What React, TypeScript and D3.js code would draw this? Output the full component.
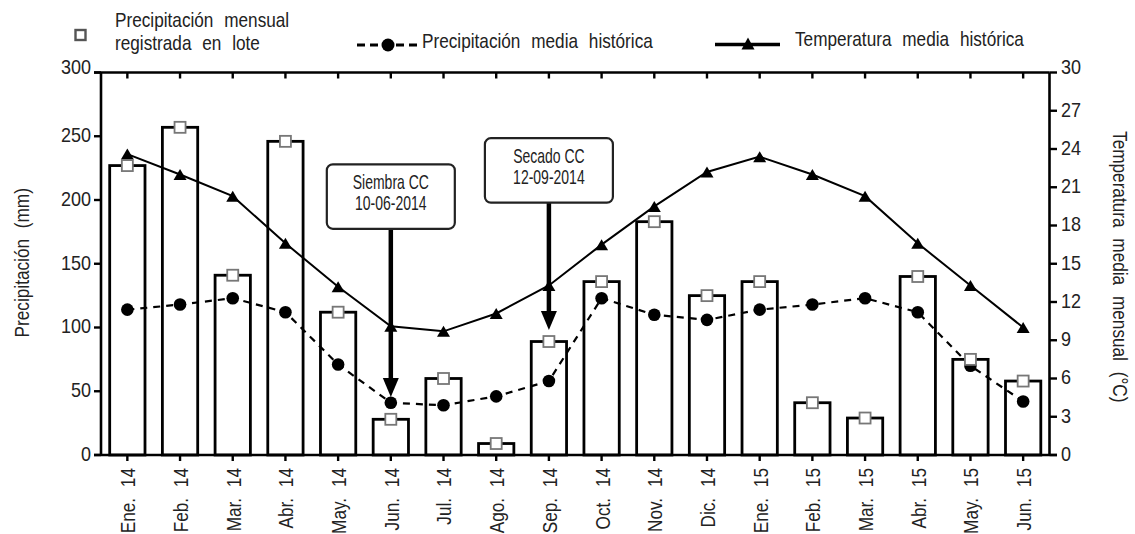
import React from "react";
import * as d3 from "d3";

const months = [
  "Ene. 14", "Feb. 14", "Mar. 14", "Abr. 14", "May. 14", "Jun. 14",
  "Jul. 14", "Ago. 14", "Sep. 14", "Oct. 14", "Nov. 14", "Dic. 14",
  "Ene. 15", "Feb. 15", "Mar. 15", "Abr. 15", "May. 15", "Jun. 15",
];
const precipLote = [227, 257, 141, 246, 112, 28, 60, 9, 89, 136, 183, 125, 136, 41, 29, 140, 75, 58];
const precipHist = [114, 118, 123, 112, 71, 41, 39, 46, 58, 123, 110, 106, 114, 118, 123, 112, 70, 42];
const tempHist = [23.6, 22.0, 20.3, 16.6, 13.2, 10.1, 9.7, 11.1, 13.3, 16.5, 19.5, 22.2, 23.4, 22.0, 20.3, 16.6, 13.3, 10.0];
const leftTicks = [0, 50, 100, 150, 200, 250, 300];
const rightTicks = [0, 3, 6, 9, 12, 15, 18, 21, 24, 27, 30];
const annotations = [
  { month: "Jun. 14", lines: ["Siembra CC", "10-06-2014"], boxTop: 228, tip: 45.5 },
  { month: "Sep. 14", lines: ["Secado CC", "12-09-2014"], boxTop: 248.5, tip: 98 },
];

const FONT = "'Liberation Sans', Arial, sans-serif";

type TP = {
  x: number; y: number; rot?: number; anchor?: "start" | "middle" | "end";
  size?: number; sx?: number; ws?: number; children: React.ReactNode;
};
function T({ x, y, rot = 0, anchor = "start", size = 20, sx = 0.86, ws = 7, children }: TP) {
  return (
    <text transform={`translate(${x},${y}) rotate(${rot}) scale(${sx},1)`} textAnchor={anchor}
      dominantBaseline="central" fontSize={size}
      style={{ fontFamily: FONT, fill: "#222", wordSpacing: `${ws}px` }}>{children}</text>
  );
}

export default function App() {
  const W = 1135, H = 534;
  const left = 101, right = 1049.5, top = 72.5, bottom = 455;
  const x = d3.scaleBand<string>().domain(months).range([left, right]).paddingInner(0.33).paddingOuter(0.165);
  const y = d3.scaleLinear().domain([0, 300]).range([bottom, top]);
  const yT = d3.scaleLinear().domain([0, 30]).range([bottom, top]);
  const cx = (m: string) => (x(m) as number) + x.bandwidth() / 2;

  const tempLine = d3.line<number>().x((_, i) => cx(months[i])).y((d) => yT(d))(tempHist) || "";
  const histLine = d3.line<number>().x((_, i) => cx(months[i])).y((d) => y(d))(precipHist) || "";

  const tri = (px: number, py: number, w: number, h: number) =>
    `M${px - w / 2},${py + h / 2}L${px + w / 2},${py + h / 2}L${px},${py - h / 2}Z`;

  return (
    <svg width={W} height={H} style={{ position: "absolute", left: 0, top: 0, background: "#fff" }}>
      <rect x={0} y={0} width={W} height={H} fill="#fff" />
      {/* bars */}
      {precipLote.map((v, i) => (
        <rect key={"b" + i} x={x(months[i])} y={y(v)} width={x.bandwidth()} height={bottom - y(v)}
          fill="#fff" stroke="#000" strokeWidth={2.8} />
      ))}
      {/* lines */}
      <path d={tempLine} fill="none" stroke="#000" strokeWidth={2} />
      <path d={histLine} fill="none" stroke="#000" strokeWidth={2.2} strokeDasharray="7,6" />
      {precipHist.map((v, i) => (
        <circle key={"c" + i} cx={cx(months[i])} cy={y(v)} r={6.3} fill="#000" />
      ))}
      {tempHist.map((v, i) => (
        <path key={"t" + i} d={tri(cx(months[i]), yT(v), 13, 11)} fill="#000" />
      ))}
      {precipLote.map((v, i) => (
        <rect key={"s" + i} x={cx(months[i]) - 5.5} y={y(v) - 5.5} width={11} height={11}
          fill="#fff" stroke="#777" strokeWidth={1.8} />
      ))}
      {/* frame / axes */}
      <line x1={94} x2={right} y1={top} y2={top} stroke="#000" strokeWidth={2.4} />
      <line x1={94} x2={1057} y1={bottom} y2={bottom} stroke="#000" strokeWidth={2.6} />
      <line x1={left} x2={left} y1={top} y2={bottom} stroke="#000" strokeWidth={2.6} />
      <line x1={right} x2={right} y1={top} y2={bottom} stroke="#000" strokeWidth={2.6} />
      {months.map((m, i) => (
        <g key={"xt" + i}>
          <line x1={cx(m)} x2={cx(m)} y1={bottom} y2={bottom + 6} stroke="#000" strokeWidth={2.4} />
          <line x1={cx(m)} x2={cx(m)} y1={top} y2={top + 6} stroke="#000" strokeWidth={2.4} />
          <T x={cx(m) + 1} y={bottom + 13} rot={-90} anchor="end">{m}</T>
        </g>
      ))}
      {leftTicks.map((t) => (
        <g key={"lt" + t}>
          <line x1={94} x2={left} y1={y(t)} y2={y(t)} stroke="#000" strokeWidth={2.4} />
          <T x={91} y={y(t) - (t === 300 ? 5 : 1)} anchor="end" sx={0.9}>{t}</T>
        </g>
      ))}
      {rightTicks.map((t) => (
        <g key={"rt" + t}>
          <line x1={right} x2={1057} y1={yT(t)} y2={yT(t)} stroke="#000" strokeWidth={2.4} />
          <T x={1061} y={yT(t) - (t === 30 ? 5 : 1)} sx={0.9}>{t}</T>
        </g>
      ))}
      <T x={22} y={(top + bottom) / 2 - 1} rot={-90} anchor="middle">Precipitación (mm)</T>
      <T x={1120} y={(top + bottom) / 2 + 3} rot={90} anchor="middle">Temperatura media mensual (°C)</T>
      {/* annotations */}
      {annotations.map((a, i) => {
        const c = cx(a.month);
        const bt = y(a.boxTop);
        const bb = bt + 64.5;
        const tipY = y(a.tip);
        const headH = 19;
        return (
          <g key={"a" + i}>
            <line x1={c} x2={c} y1={bb} y2={tipY - headH + 1} stroke="#000" strokeWidth={4.5} />
            <path d={`M${c - 8},${tipY - headH}L${c + 8},${tipY - headH}L${c},${tipY}Z`} fill="#000" />
            <rect x={c - 64} y={bt} width={128} height={64.5} rx={6} fill="#fff" stroke="#222" strokeWidth={2.2} />
            <T x={c} y={bt + 18} anchor="middle" size={20} sx={0.7} ws={0}>{a.lines[0]}</T>
            <T x={c} y={bt + 39} anchor="middle" size={20} sx={0.7} ws={0}>{a.lines[1]}</T>
          </g>
        );
      })}
      {/* legend */}
      <rect x={75.5} y={30} width={10} height={10} fill="#fff" stroke="#555" strokeWidth={2.4} />
      <T x={115} y={20}>Precipitación mensual</T>
      <T x={115} y={43}>registrada en lote</T>
      <line x1={357} x2={417} y1={45} y2={45} stroke="#000" strokeWidth={3} strokeDasharray="8,5" />
      <circle cx={388} cy={45} r={6.5} fill="#000" />
      <T x={422} y={41}>Precipitación media histórica</T>
      <line x1={715} x2={780} y1={44.5} y2={44.5} stroke="#000" strokeWidth={3.5} />
      <path d={tri(748, 43.5, 13, 12)} fill="#000" />
      <T x={795} y={39}>Temperatura media histórica</T>
    </svg>
  );
}
